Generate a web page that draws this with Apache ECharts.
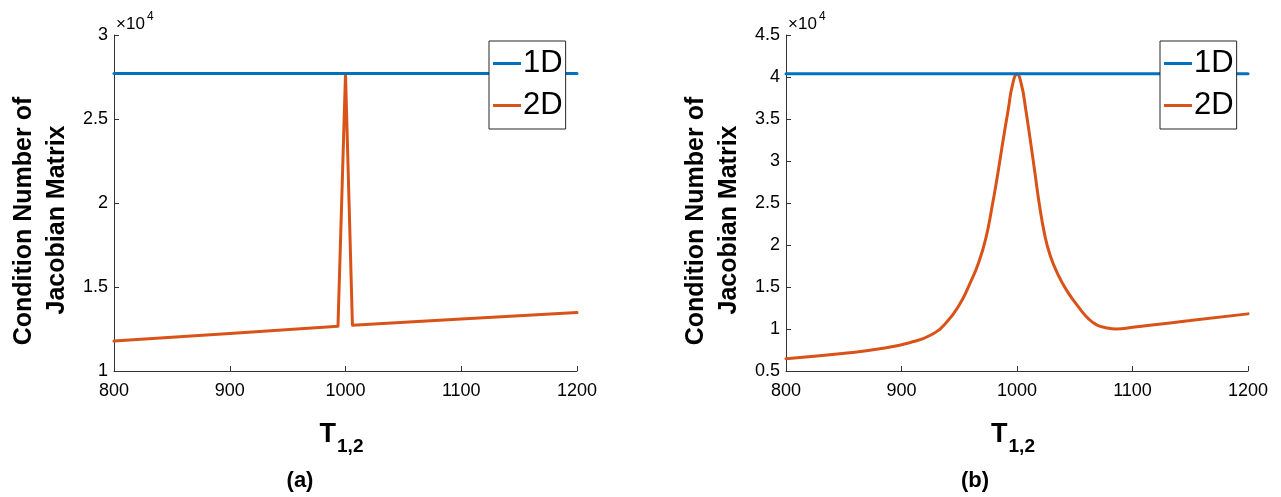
<!DOCTYPE html>
<html><head><meta charset="utf-8">
<script src="https://cdn.jsdelivr.net/npm/echarts@6/dist/echarts.min.js"></script>
<style>html,body{margin:0;padding:0;background:#fff}#c{width:1281px;height:497px}</style>
</head><body><div id="c"></div>
<script>
// ---- data (raw condition numbers) ----
const xTicks = [800, 900, 1000, 1100, 1200];
const seriesNames = ['1D', '2D'];
// panel (a)
const aT1D = [800, 1200];
const a1D = [27710, 27710];
const aT2D = [800, 900, 993.5, 1000, 1006, 1100, 1200];
const a2D = [11780, 12230, 12660, 27710, 12720, 13100, 13480];
// panel (b)
const bT1D = [800, 1200];
const b1D = [40400, 40400];
const bT2D = [800, 855, 884, 907, 925, 939, 950.6, 959.3, 966.5, 973, 978.6, 983.5, 988, 992.5, 996, 1000,
              1004, 1007.5, 1011.5, 1015.5, 1019.5, 1024, 1028.6, 1034.4, 1043, 1054.5, 1062, 1069, 1077, 1086, 1100, 1115, 1150, 1200];
const b2D = [6460, 7180, 7700, 8370, 9250, 10800, 13000, 15440, 17800, 20800, 24700, 28600, 32500, 36200, 39000, 40350,
             39000, 36200, 32500, 28600, 24700, 21200, 18800, 16800, 14600, 12400, 11200, 10500, 10150, 10000, 10200, 10450, 11000, 11800];
const yTitle = ['Condition Number of', 'Jacobian Matrix'];
const panelLabels = ['(a)', '(b)'];

const pair = (xs, ys) => xs.map((x, i) => [x, ys[i]]);
const FONT = '"Liberation Sans", Arial, Helvetica, sans-serif';
const BLUE = '#0072BD', ORANGE = '#D95319', AX = '#333';

function xAxis(gi) {
  return {
    type: 'value', gridIndex: gi, min: xTicks[0], max: xTicks[xTicks.length - 1], interval: 100,
    axisLine: { show: true, lineStyle: { color: AX, width: 1 } },
    axisTick: { show: true, inside: true, length: 5, lineStyle: { color: AX } },
    axisLabel: { color: '#000', fontSize: 18, fontFamily: FONT, margin: 11, formatter: v => String(v) },
    splitLine: { show: false },
    name: '{t|T}{s|1,2}', nameLocation: 'middle', nameGap: 42,
    nameTextStyle: { rich: {
      t: { fontSize: 27, fontWeight: 'bold', fontFamily: FONT, color: '#000' },
      s: { fontSize: 19, fontWeight: 'bold', fontFamily: FONT, color: '#000', padding: [24, 8, 0, 1] }
    } }
  };
}
function yAxis(gi, min, max) {
  return {
    type: 'value', gridIndex: gi, min: min, max: max, interval: 5000,
    axisLine: { show: true, lineStyle: { color: AX, width: 1 } },
    axisTick: { show: true, inside: true, length: 5, lineStyle: { color: AX } },
    axisLabel: { color: '#000', fontSize: 18, fontFamily: FONT, margin: 6, formatter: v => String(+(v / 10000).toFixed(2)) },
    splitLine: { show: false }
  };
}
function line(name, gi, data, color, smooth) {
  return {
    name: name, type: 'line', xAxisIndex: gi, yAxisIndex: gi, data: data,
    showSymbol: false, smooth: smooth, color: color,
    lineStyle: { width: 3, color: color, join: 'round', cap: 'round' }, z: name === '1D' ? 3 : 2
  };
}
function legend(left) {
  return {
    orient: 'vertical', left: left, top: 41, data: seriesNames.map(n => ({ name: n, icon: 'rect' })),
    itemWidth: 28, itemHeight: 3, itemGap: 11, padding: [7, 3, 8, 4],
    borderColor: '#262626', borderWidth: 1, backgroundColor: '#fff',
    textStyle: { fontSize: 31, fontFamily: FONT, color: '#000', lineHeight: 28, padding: [0, 0, 0, -3] },
    selectedMode: false
  };
}
function tText(x, y, text, size, bold, rot, align) {
  return { type: 'text', x: x, y: y, rotation: rot || 0, z: 10,
    style: { text: text, font: (bold ? 'bold ' : '') + size + 'px ' + FONT, fill: '#000',
      align: align || 'center', verticalAlign: 'middle', textAlign: align || 'center', textVerticalAlign: 'middle' } };
}

const chart = echarts.init(document.getElementById('c'), null, { renderer: 'canvas' });
chart.setOption({
  animation: false,
  backgroundColor: '#fff',
  grid: [
    { left: 114, top: 35, width: 463, height: 336 },
    { left: 786, top: 35, width: 462, height: 336 }
  ],
  xAxis: [xAxis(0), xAxis(1)],
  yAxis: [yAxis(0, 10000, 30000), yAxis(1, 5000, 45000)],
  legend: [legend(489), legend(1160)],
  series: [
    line('1D', 0, pair(aT1D, a1D), BLUE, false),
    line('2D', 0, pair(aT2D, a2D), ORANGE, false),
    line('1D', 1, pair(bT1D, b1D), BLUE, false),
    line('2D', 1, pair(bT2D, b2D), ORANGE, 0.5)
  ],
  graphic: [
    tText(24, 221, yTitle[0], 25, true, Math.PI / 2),
    tText(57, 220, yTitle[1], 25, true, Math.PI / 2),
    tText(696, 221, yTitle[0], 25, true, Math.PI / 2),
    tText(729, 220, yTitle[1], 25, true, Math.PI / 2),
    tText(116, 24, '×10', 17, false, 0, 'left'),
    tText(147, 17, '4', 12, false, 0, 'left'),
    tText(788, 24, '×10', 17, false, 0, 'left'),
    tText(819, 17, '4', 12, false, 0, 'left'),
    tText(300, 481, panelLabels[0], 22, true),
    tText(975, 481, panelLabels[1], 22, true)
  ]
});
</script></body></html>
